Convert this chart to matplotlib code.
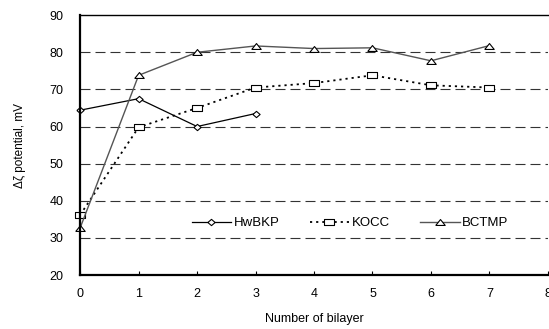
import matplotlib.pyplot as plt

plt.rcParams['font.family'] = ['Liberation Sans', 'DejaVu Sans']

bilayer = [0, 1, 2, 3, 4, 5, 6, 7]
hwbkp = [64.4, 67.5, 60.0, 63.5]
kocc = [36.2, 59.8, 65.0, 70.5, 71.7, 73.8, 71.1, 70.5]
bctmp = [32.7, 73.8, 80.0, 81.7, 81.0, 81.2, 77.7, 81.8]

# the source picture is squashed a bit, markers come out wider than tall
sq = [(-1.45, -1), (1.45, -1), (1.45, 1), (-1.45, 1), (-1.45, -1)]
tri = [(-1.6, -1), (1.6, -1), (0, 1), (-1.6, -1)]
dia = [(-1.15, 0), (0, 1), (1.15, 0), (0, -1), (-1.15, 0)]

fig = plt.figure(figsize=(5.49, 3.29), dpi=100)
ax = fig.add_axes([0.146, 0.164, 0.852, 0.790])

for y in range(30, 90, 10):
    ax.axhline(y, color='#333333', lw=0.8, dashes=(9, 4.5), zorder=0)

mk = dict(markerfacecolor='white', markeredgecolor='black', markeredgewidth=0.8, clip_on=False)
ax.plot(bilayer[:4], hwbkp, '-', color='black', lw=0.9, marker=dia, ms=5.2, label='HwBKP', **mk)
ax.plot(bilayer, kocc, color='black', lw=1.3, dashes=(1.2, 2.2), marker=sq, ms=6.5, label='KOCC', **mk)
ax.plot(bilayer, bctmp, '-', color='#555555', lw=1.0, marker=tri, ms=6.8, label='BCTMP', **mk)

ax.set_xlim(0, 8)
ax.set_ylim(20, 90)
ax.set_xticks(range(0, 9))
ax.set_yticks(range(20, 100, 10))
ax.tick_params(axis='x', direction='in', length=3, labelsize=9, pad=9)
ax.tick_params(axis='y', length=0, labelsize=9, pad=12)
ax.spines['left'].set_linewidth(1.6)
ax.spines['bottom'].set_linewidth(1.6)
ax.spines['top'].set_linewidth(1.0)
ax.spines['right'].set_visible(False)

ax.set_xlabel('Number of bilayer', fontsize=9, labelpad=10)
ax.set_ylabel('Δζ potential, mV', fontsize=8.5, labelpad=17)

ax.legend(loc='center left', bbox_to_anchor=(0.213, 0.2), ncol=3, frameon=False,
          fontsize=9.5, handlelength=3.0, columnspacing=2.27, handletextpad=0.2)

fig.savefig('out.png', dpi=100)
